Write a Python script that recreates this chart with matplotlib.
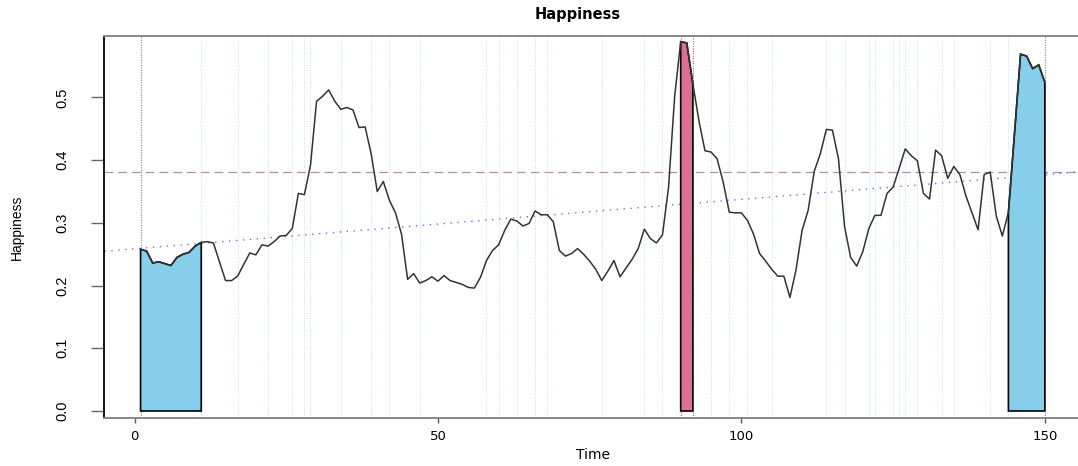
import matplotlib
matplotlib.use("Agg")
import matplotlib.pyplot as plt
from matplotlib import font_manager
import numpy as np

# ---------------- data ----------------
time = list(range(1, 151))
happiness = [
    0.258, 0.255, 0.236, 0.238, 0.235, 0.232, 0.245, 0.250, 0.253, 0.263,
    0.269, 0.270, 0.268, 0.238, 0.208, 0.208, 0.215, 0.234, 0.252, 0.249,
    0.265, 0.263, 0.270, 0.279, 0.280, 0.291, 0.347, 0.345, 0.392, 0.494,
    0.502, 0.512, 0.494, 0.481, 0.484, 0.480, 0.452, 0.453, 0.410, 0.350,
    0.366, 0.336, 0.316, 0.282, 0.210, 0.219, 0.204, 0.208, 0.214, 0.207,
    0.216, 0.208, 0.205, 0.202, 0.197, 0.196, 0.213, 0.240, 0.256, 0.265,
    0.288, 0.306, 0.303, 0.295, 0.299, 0.319, 0.313, 0.313, 0.302, 0.256,
    0.247, 0.251, 0.259, 0.250, 0.239, 0.226, 0.208, 0.223, 0.240, 0.214,
    0.228, 0.242, 0.259, 0.290, 0.275, 0.268, 0.281, 0.357, 0.501, 0.589,
    0.587, 0.522, 0.463, 0.415, 0.413, 0.402, 0.365, 0.317, 0.316, 0.316,
    0.304, 0.282, 0.251, 0.239, 0.226, 0.215, 0.215, 0.181, 0.225, 0.288,
    0.320, 0.382, 0.410, 0.449, 0.448, 0.402, 0.294, 0.245, 0.231, 0.254,
    0.291, 0.312, 0.312, 0.347, 0.357, 0.387, 0.418, 0.407, 0.399, 0.347,
    0.338, 0.416, 0.407, 0.371, 0.390, 0.377, 0.343, 0.316, 0.289, 0.377,
    0.381, 0.311, 0.279, 0.317, 0.442, 0.569, 0.566, 0.546, 0.552, 0.524,
]
blue_regions = [(1, 11), (144, 150)]
red_regions = [(90, 92)]
light_vlines = [11, 17, 22, 26, 28, 29, 34, 39, 42, 47, 58, 60, 63, 66, 68,
                77, 84, 87, 95, 98, 101, 105, 114, 117, 121, 122, 125, 126,
                127, 129, 133, 135, 141, 144]
grey_vlines = [1, 150]
red_vlines = [90, 92]
mean_level = 0.381
trend_intercept = 0.2587
trend_slope = 0.000788
x_ticks = [0, 50, 100, 150]
y_ticks = [0.0, 0.1, 0.2, 0.3, 0.4, 0.5]
y_ticklabels = ["0.0", "0.1", "0.2", "0.3", "0.4", "0.5"]

# ---------------- fonts ----------------
names = {f.name for f in font_manager.fontManager.ttflist}
narrow = "Liberation Sans Narrow" if "Liberation Sans Narrow" in names else "Liberation Sans"
wide = "DejaVu Sans"

t = np.array(time)
h = np.array(happiness)

fig = plt.figure(figsize=(10.78, 4.66), dpi=100)
W, H = 1078, 466
left_px, right_px, top_px, bot_px = 104.4, 1081.0, 36.0, 417.7
ax = fig.add_axes([left_px / W, 1 - bot_px / H, (right_px - left_px) / W, (bot_px - top_px) / H])
ax.set_xlim(-4.96, 155.96)
ax.set_ylim(-0.0107, 0.598)

# vertical reference lines
for v in light_vlines:
    ax.axvline(v, color="#add8e6", lw=0.7, alpha=0.75, ls=(0, (1, 1.5)), zorder=1)
for v in grey_vlines:
    ax.axvline(v, color="#8c9898", lw=0.9, ls=(0, (1, 1)), zorder=1)
for v in red_vlines:
    ax.axvline(v, color="#e05050", lw=0.8, ls=(0, (1, 1.2)), zorder=1)

# horizontal mean line and trend line
ax.axhline(mean_level, color="#b48cb4", lw=0.9, ls=(0, (7, 4)), zorder=2)
xl = np.array(ax.get_xlim())
ax.plot(xl, trend_intercept + trend_slope * xl, color="#6a6aff", lw=1.0,
        ls=(0, (1, 4)), zorder=2)

# filled regions
def fill_region(a, b, color):
    m = (t >= a) & (t <= b)
    xs = np.concatenate([[a], t[m], [b]])
    ys = np.concatenate([[0], h[m], [0]])
    ax.fill(xs, ys, facecolor=color, edgecolor="black", lw=1.2, zorder=3)

for a, b in blue_regions:
    fill_region(a, b, "#87ceeb")
for a, b in red_regions:
    fill_region(a, b, "#db7093")

# main line
ax.plot(t, h, color="#333333", lw=1.1, zorder=4)

# spines
for s in ["top", "bottom", "right"]:
    ax.spines[s].set_color("#888888")
    ax.spines[s].set_linewidth(1.4)
ax.spines["left"].set_color("black")
ax.spines["left"].set_linewidth(1.3)

ax.set_xticks(x_ticks)
ax.set_xticklabels([str(v) for v in x_ticks], fontfamily=wide, fontsize=9.5)
ax.tick_params(axis="x", length=3.6, width=1, color="#555555", pad=5)
ax.set_yticks(y_ticks)
ax.set_yticklabels(y_ticklabels, rotation=90, va="center", fontfamily=narrow, fontsize=10.5)
ax.tick_params(axis="y", length=9.5, width=1, color="#666666", pad=15.5)

fig.text(578 / W, 1 - 15 / H, "Happiness", ha="center", va="center",
         fontfamily=wide, fontweight="bold", fontsize=10.5)
fig.text(593 / W, 1 - 455 / H, "Time", ha="center", va="center",
         fontfamily=wide, fontsize=10)
fig.text(17 / W, 1 - 227 / H, "Happiness", ha="center", va="center",
         rotation=90, fontfamily=narrow, fontsize=10)

fig.savefig("out.png", dpi=100)
